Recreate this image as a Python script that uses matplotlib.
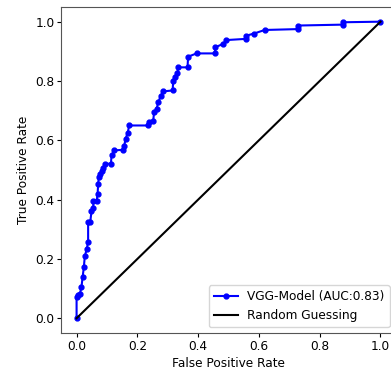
import matplotlib
matplotlib.use("Agg")
import matplotlib.pyplot as plt

# ROC points
fpr = [0.0, 0.0, 0.005, 0.011, 0.016, 0.020, 0.024, 0.027, 0.033, 0.038,
       0.038, 0.045, 0.049, 0.055, 0.055, 0.066, 0.069, 0.071, 0.073, 0.077,
       0.082, 0.088, 0.093, 0.113, 0.115, 0.124, 0.153, 0.157, 0.161, 0.168,
       0.173, 0.234, 0.238, 0.252, 0.255, 0.263, 0.269, 0.277, 0.285, 0.316,
       0.318, 0.323, 0.332, 0.334, 0.365, 0.367, 0.395, 0.455, 0.457, 0.482,
       0.493, 0.557, 0.559, 0.584, 0.619, 0.729, 0.729, 0.875, 0.875, 1.0]
tpr = [0.0, 0.072, 0.080, 0.083, 0.105, 0.140, 0.173, 0.209, 0.232, 0.257,
       0.324, 0.324, 0.361, 0.373, 0.395, 0.395, 0.418, 0.451, 0.476, 0.487,
       0.496, 0.505, 0.521, 0.521, 0.549, 0.566, 0.568, 0.582, 0.605, 0.624,
       0.650, 0.650, 0.661, 0.664, 0.695, 0.706, 0.728, 0.751, 0.765, 0.768,
       0.801, 0.815, 0.826, 0.846, 0.846, 0.882, 0.893, 0.893, 0.914, 0.925,
       0.938, 0.942, 0.953, 0.960, 0.972, 0.975, 0.987, 0.990, 0.998, 1.0]
diag = [0.0, 1.0]
auc_label = "VGG-Model (AUC:0.83)"
ticks = [0.0, 0.2, 0.4, 0.6, 0.8, 1.0]

fs = 8.7

fig = plt.figure(figsize=(3.91, 3.72), dpi=100)
ax = fig.add_axes([0.157, 0.1046, 0.855, 0.877])

ax.plot(fpr, tpr, color="blue", marker="o", markersize=3.5, linewidth=1.5,
        label=auc_label)
ax.plot(diag, diag, color="black", linewidth=1.5, label="Random Guessing")

ax.set_xlim(-0.05, 1.05)
ax.set_ylim(-0.05, 1.05)
ax.set_xticks(ticks)
ax.set_yticks(ticks)
ax.tick_params(labelsize=fs, length=3, pad=2)
for s in ax.spines.values():
    s.set_color("#555555")
ax.set_xlabel("False Positive Rate", fontsize=fs, labelpad=3)
ax.set_ylabel("True Positive Rate", fontsize=fs, labelpad=4)
ax.legend(loc="lower right", fontsize=fs)

fig.savefig("out.png", dpi=100)
